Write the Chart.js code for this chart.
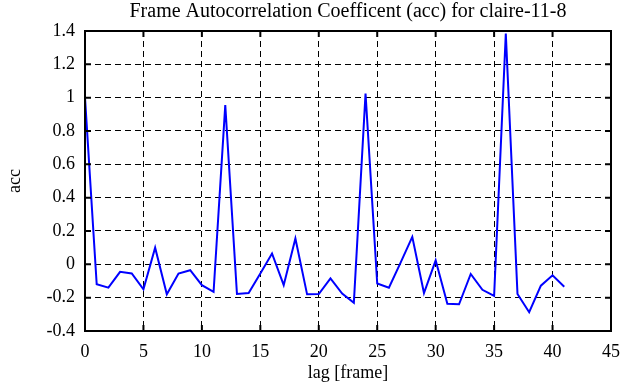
<html lang="en">
<head>
    <meta charset="UTF-8">
    <title>Frame Autocorrelation</title>
    <style>
        body { margin: 0; background: #fff; }
    </style>
</head>
<body>
    <canvas id="accChart" width="630" height="387"></canvas>

    <script src="https://cdn.jsdelivr.net/npm/chart.js@4.4.0/dist/chart.umd.min.js"></script>
    <script>
        // lag in frames
        const lags = [0, 1, 2, 3, 4, 5, 6, 7, 8, 9, 10, 11, 12, 13, 14, 15, 16, 17, 18, 19, 20,
            21, 22, 23, 24, 25, 26, 27, 28, 29, 30, 31, 32, 33, 34, 35, 36, 37, 38, 39, 40, 41]
        // autocorrelation coefficient
        const acc = [1.0, -0.12, -0.14, -0.045, -0.055, -0.15, 0.10, -0.18, -0.055, -0.035, -0.125,
            -0.165, 0.955, -0.178, -0.172, -0.055, 0.065, -0.125, 0.155, -0.18, -0.178,
            -0.085, -0.175, -0.23, 1.025, -0.115, -0.14, 0.01, 0.165, -0.172, 0.024,
            -0.237, -0.24, -0.058, -0.153, -0.19, 1.385, -0.178, -0.287, -0.128, -0.066, -0.134]
        const xTicks = [0, 5, 10, 15, 20, 25, 30, 35, 40, 45]
        const yTicks = [-0.4, -0.2, 0, 0.2, 0.4, 0.6, 0.8, 1, 1.2, 1.4]

        const serif = 'Liberation Serif'

        // small inward tick marks on all four sides, like gnuplot
        const innerTicks = {
            id: 'innerTicks',
            afterDraw(chart) {
                const ctx = chart.ctx
                const a = chart.chartArea
                const xs = chart.scales.x
                const ys = chart.scales.y
                const len = 6
                ctx.save()
                ctx.strokeStyle = '#000'
                ctx.lineWidth = 2
                ctx.beginPath()
                xTicks.forEach(t => {
                    const px = xs.getPixelForValue(t)
                    ctx.moveTo(px, a.bottom); ctx.lineTo(px, a.bottom - len)
                    ctx.moveTo(px, a.top); ctx.lineTo(px, a.top + len)
                })
                yTicks.forEach(t => {
                    const py = ys.getPixelForValue(t)
                    ctx.moveTo(a.left, py); ctx.lineTo(a.left + len, py)
                    ctx.moveTo(a.right, py); ctx.lineTo(a.right - len, py)
                })
                ctx.stroke()
                ctx.strokeRect(a.left, a.top, a.right - a.left, a.bottom - a.top)
                ctx.restore()
            }
        }

        const ctx = document.getElementById('accChart').getContext('2d')
        const myChart = new Chart(ctx, {
            type: 'line',
            data: {
                datasets: [{
                    label: 'acc',
                    data: lags.map((l, i) => ({ x: l, y: acc[i] })),
                    borderColor: '#0000ff',
                    borderWidth: 2,
                    pointRadius: 0,
                    tension: 0,
                    fill: false
                }]
            },
            options: {
                responsive: false,
                animation: false,
                layout: { padding: { left: 0, right: 17, top: 0, bottom: 0 } },
                plugins: {
                    legend: { display: false },
                    tooltip: { enabled: false },
                    title: {
                        display: true,
                        fullSize: false,
                        text: 'Frame Autocorrelation Coefficent (acc) for claire-11-8',
                        color: '#000',
                        font: { family: serif, size: 20, weight: 'normal' },
                        padding: { top: 0, bottom: 7 }
                    }
                },
                scales: {
                    x: {
                        type: 'linear',
                        min: 0,
                        max: 45,
                        afterBuildTicks: s => { s.ticks = xTicks.map(v => ({ value: v })) },
                        afterFit: s => { s.height = 56 },
                        ticks: {
                            color: '#000',
                            font: { family: serif, size: 18 },
                            padding: 10,
                            maxRotation: 0
                        },
                        grid: {
                            color: '#000',
                            lineWidth: 1,
                            drawTicks: false
                        },
                        border: { display: false, dash: [6, 4] },
                        title: {
                            display: true,
                            text: 'lag [frame]',
                            color: '#000',
                            font: { family: serif, size: 18 },
                            padding: 3
                        }
                    },
                    y: {
                        min: -0.4,
                        max: 1.4,
                        afterBuildTicks: s => { s.ticks = yTicks.map(v => ({ value: v })) },
                        afterFit: s => { s.width = 85 },
                        ticks: {
                            color: '#000',
                            font: { family: serif, size: 18 },
                            padding: 10,
                            callback: v => String(+v.toFixed(1))
                        },
                        grid: {
                            color: '#000',
                            lineWidth: 1,
                            drawTicks: false
                        },
                        border: { display: false, dash: [6, 4] },
                        title: {
                            display: true,
                            text: 'acc',
                            color: '#000',
                            font: { family: serif, size: 18 },
                            padding: 4
                        }
                    }
                }
            },
            plugins: [innerTicks]
        })
    </script>
</body>
</html>
